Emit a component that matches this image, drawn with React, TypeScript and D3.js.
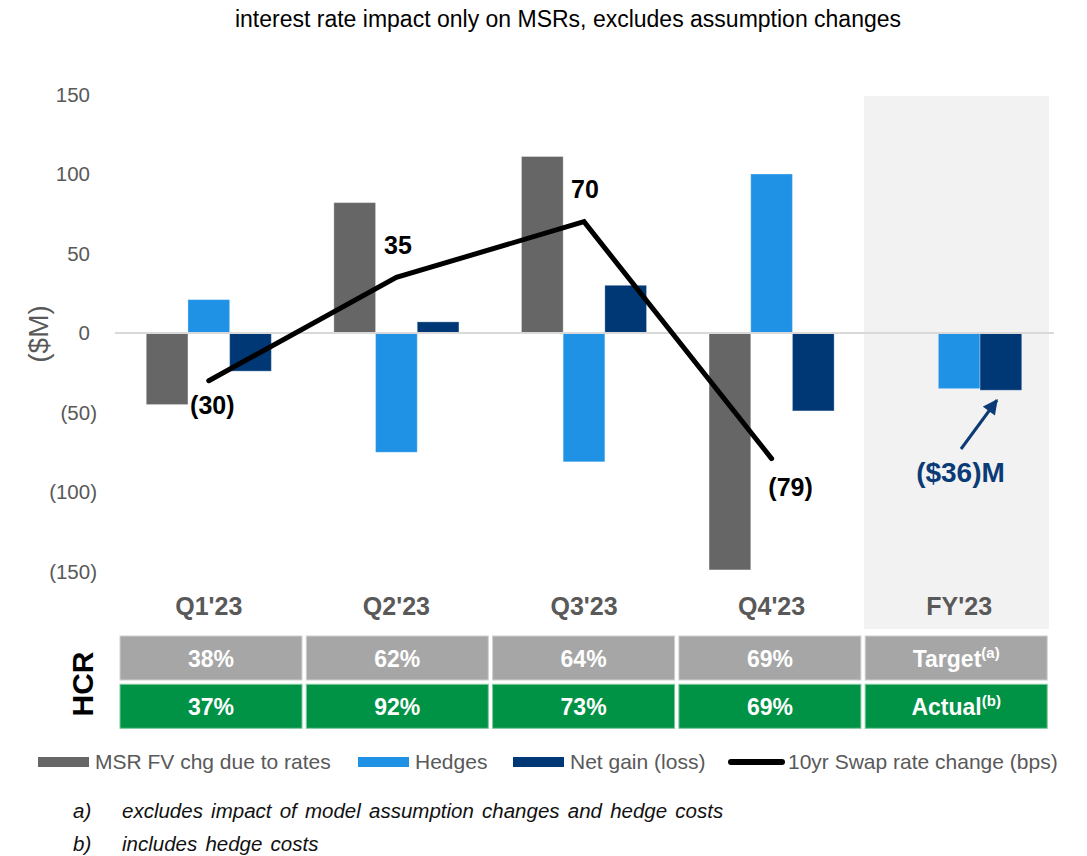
import React from 'react';
import * as d3 from 'd3';

const title = 'interest rate impact only on MSRs, excludes assumption changes';
const categories = ["Q1'23", "Q2'23", "Q3'23", "Q4'23", "FY'23"];
const seriesNames = ['MSR FV chg due to rates', 'Hedges', 'Net gain (loss)'];
const msrValues: (number | null)[] = [-45, 82, 111, -149, null];
const hedgeValues: (number | null)[] = [21, -75, -81, 100, -35];
const netValues: (number | null)[] = [-24, 7, 30, -49, -36];
const swapCategories = ["Q1'23", "Q2'23", "Q3'23", "Q4'23"];
const swapValues = [-30, 35, 70, -79];
const swapName = '10yr Swap rate change (bps)';
const yTicks = [150, 100, 50, 0, -50, -100, -150];
const hcrTarget = ['38%', '62%', '64%', '69%', 'Target'];
const hcrActual = ['37%', '92%', '73%', '69%', 'Actual'];
const hcrNotes = ['', '', '', '', '(a)'];
const hcrActualNotes = ['', '', '', '', '(b)'];
const footnoteMarks = ['a)', 'b)'];
const footnoteTexts = ['excludes impact of model assumption changes and hedge costs', 'includes hedge costs'];

// style / layout config (not data)
const COLORS = ['#666666', '#1f92e6', '#003876'];
const swapLabelOffsets = [[3.5, 24], [1.5, -32], [1, -33], [19, 28]];
const legendX = [38, 358, 513, 728];

const fmt = (v: number) => (v < 0 ? `(${Math.abs(v)})` : `${v}`);

export default function App() {
  const W = 1087, H = 856;
  const x = d3.scaleBand<string>().domain(categories).range([115, 1053]).paddingInner(0).paddingOuter(0);
  const xs = d3.scaleBand<string>().domain(seriesNames).range([0, x.bandwidth()]).paddingInner(0).paddingOuter(0.75);
  const y = d3.scaleLinear().domain([-150, 150]).range([571.5, 94.5]);
  const xt = d3.scaleBand<string>().domain(categories).range([120, 1047.2]).paddingInner(0.0231).paddingOuter(0);

  const seriesValues = [msrValues, hedgeValues, netValues];
  const line = d3.line<number>()
    .x((_, i) => (x(swapCategories[i]) as number) + x.bandwidth() / 2)
    .y((d) => y(d));

  const fyIdx = categories.length - 1;
  const fyNet = netValues[fyIdx] as number;
  const fyNetX = (x(categories[fyIdx]) as number) + (xs(seriesNames[2]) as number) + xs.bandwidth() / 2;
  const fyNetY = y(fyNet);
  const annText = `($${Math.abs(fyNet)})M`;

  return (
    <svg width={W} height={H} style={{ position: 'absolute', left: 0, top: 0, background: '#fff' }} fontFamily="'Liberation Sans', Arial, sans-serif">
      <defs>
        <marker id="arr" viewBox="0 0 10 10" refX="9" refY="5" markerWidth="5.5" markerHeight="5" markerUnits="strokeWidth" orient="auto">
          <path d="M0,0 L10,5 L0,10 z" fill="#0b3b76" />
        </marker>
      </defs>
      <text x={568} y={27} textAnchor="middle" fontSize={23} fill="#000">{title}</text>

      {/* FY band */}
      <rect x={864} y={96} width={1049 - 864} height={629 - 96} fill="#f2f2f2" />

      {/* y ticks */}
      {yTicks.map((t) => (
        <text key={t} x={t < 0 ? 97 : 90} y={y(t) + 7} textAnchor="end" fontSize={20.5} fill="#595959">{fmt(t)}</text>
      ))}
      <text transform={`translate(48,334) rotate(-90)`} textAnchor="middle" fontSize={28} fill="#595959">($M)</text>

      {/* bars */}
      {seriesValues.map((vals, si) =>
        vals.map((v, ci) => {
          if (v === null) return null;
          const bx = (x(categories[ci]) as number) + (xs(seriesNames[si]) as number);
          const y0 = y(0), y1 = y(v);
          return (
            <rect key={`${si}-${ci}`} x={bx} y={Math.min(y0, y1)} width={xs.bandwidth()} height={Math.abs(y1 - y0)}
              fill={COLORS[si]} stroke="#ffffff" strokeOpacity={0.3} strokeWidth={1} />
          );
        })
      )}

      {/* zero line */}
      <line x1={115} x2={1054} y1={y(0)} y2={y(0)} stroke="#d9d9d9" strokeWidth={2} />

      {/* swap line */}
      <path d={line(swapValues) as string} fill="none" stroke="#000" strokeWidth={5} strokeLinejoin="miter" strokeLinecap="round" />
      {swapValues.map((v, i) => (
        <text key={i} x={(x(swapCategories[i]) as number) + x.bandwidth() / 2 + swapLabelOffsets[i][0]}
          y={y(v) + swapLabelOffsets[i][1] + 9} textAnchor="middle" fontSize={25} fontWeight="bold" fill="#000">{fmt(v)}</text>
      ))}

      {/* annotation */}
      <line x1={961} y1={449} x2={fyNetX - 4} y2={fyNetY + 10} stroke="#0b3b76" strokeWidth={3} markerEnd="url(#arr)" />
      <text x={960.5} y={482} textAnchor="middle" fontSize={28} fontWeight="bold" fill="#0b3b76">{annText}</text>

      {/* category labels */}
      {categories.map((c) => (
        <text key={c} x={(x(c) as number) + x.bandwidth() / 2} y={615} textAnchor="middle" fontSize={25} fontWeight="bold" fill="#595959">{c}</text>
      ))}

      {/* HCR table */}
      <text transform="translate(93,684) rotate(-90)" textAnchor="middle" fontSize={30} fontWeight="bold" fill="#000">HCR</text>
      {categories.map((c, i) => (
        <g key={c}>
          <rect x={xt(c)} y={636} width={xt.bandwidth()} height={44} fill="#a6a6a6" stroke="#d0d0d0" strokeWidth={1} />
          <text x={(xt(c) as number) + xt.bandwidth() / 2} y={667} textAnchor="middle" fontSize={23} fontWeight="bold" fill="#fff">
            {hcrTarget[i]}
            {hcrNotes[i] && <tspan fontSize={15} dy={-9}>{hcrNotes[i]}</tspan>}
          </text>
          <rect x={xt(c)} y={684.3} width={xt.bandwidth()} height={44} fill="#009245" stroke="#7cc79b" strokeWidth={1} />
          <text x={(xt(c) as number) + xt.bandwidth() / 2} y={715} textAnchor="middle" fontSize={23} fontWeight="bold" fill="#fff">
            {hcrActual[i]}
            {hcrActualNotes[i] && <tspan fontSize={15} dy={-9}>{hcrActualNotes[i]}</tspan>}
          </text>
        </g>
      ))}

      {/* legend */}
      {seriesNames.map((s, i) => (
        <g key={s}>
          <rect x={legendX[i]} y={757} width={51} height={10} fill={COLORS[i]} />
          <text x={legendX[i] + 57} y={769} fontSize={21} fill="#595959">{s}</text>
        </g>
      ))}
      <line x1={legendX[3] + 3} x2={legendX[3] + 54} y1={762} y2={762} stroke="#000" strokeWidth={6} strokeLinecap="round" />
      <text x={legendX[3] + 60} y={769} fontSize={21} fill="#595959">{swapName}</text>

      {/* footnotes */}
      {footnoteMarks.map((m, i) => (
        <g key={m}>
          <text x={73} y={818 + i * 33} fontSize={20.5} fontStyle="italic" fill="#111">{m}</text>
          <text x={122} y={818 + i * 33} fontSize={20.5} fontStyle="italic" fill="#111" wordSpacing={2.5}>{footnoteTexts[i]}</text>
        </g>
      ))}
    </svg>
  );
}
